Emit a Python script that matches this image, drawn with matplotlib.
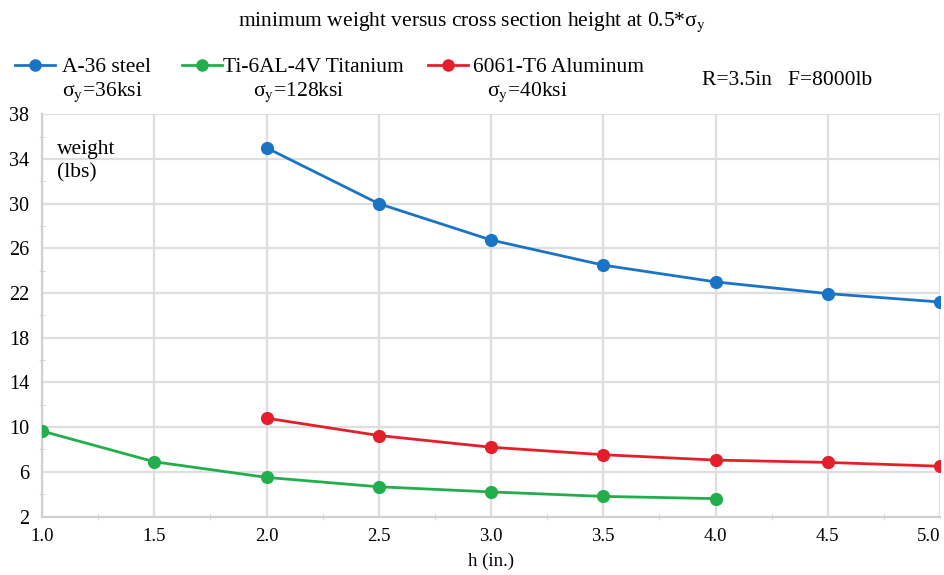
import numpy as np
import matplotlib.pyplot as plt
from matplotlib.lines import Line2D

plt.rcParams['font.family'] = ['Liberation Serif', 'DejaVu Serif']
plt.rcParams['mathtext.fontset'] = 'stix'

# h (in.)
h_steel = [2.0, 2.5, 3.0, 3.5, 4.0, 4.5, 5.0]
h_ti = [1.0, 1.5, 2.0, 2.5, 3.0, 3.5, 4.0]
h_al = [2.0, 2.5, 3.0, 3.5, 4.0, 4.5, 5.0]

# weight (lbs)
w_steel = [35.0, 30.0, 26.75, 24.5, 23.0, 21.95, 21.2]
w_ti = [9.65, 6.9, 5.5, 4.66, 4.2, 3.8, 3.6]
w_al = [10.8, 9.25, 8.2, 7.53, 7.05, 6.84, 6.5]

names = ['A-36 steel', 'Ti-6AL-4V Titanium', '6061-T6 Aluminum']
yields = [r'σ$_\mathrm{y}$=36ksi', r'σ$_\mathrm{y}$=128ksi', r'σ$_\mathrm{y}$=40ksi']
colors = ['#1a74c6', '#22ae4c', '#e41f2b']

x_ticks = [1.0, 1.5, 2.0, 2.5, 3.0, 3.5, 4.0, 4.5, 5.0]
y_ticks = [2, 6, 10, 14, 18, 22, 26, 30, 34, 38]

W, H = 944, 575
fig = plt.figure(figsize=(W / 100, H / 100), dpi=100)
ax = fig.add_axes([42 / W, 1 - 516.5 / H, 898 / W, 402.2 / H])

series = [(h_steel, w_steel), (h_ti, w_ti), (h_al, w_al)]
for (hx, wy), c in zip(series, colors):
    ax.plot(hx, wy, color=c, lw=2.0, marker='o', ms=8.5, zorder=3)

ax.set_xlim(1.0, 5.0)
ax.set_ylim(2, 38)
ax.set_xticks(x_ticks)
ax.set_xticklabels([f'{v:.1f}' for v in x_ticks])
ax.get_xticklabels()[-1].set_ha('right')
ax.set_yticks(y_ticks)
ax.set_xticks(np.arange(1.25, 5.0, 0.5), minor=True)
ax.set_yticks(np.arange(4, 38, 4), minor=True)
ax.grid(True, which='major', color='#dedede', lw=1.6)
ax.tick_params(axis='x', which='major', length=0, labelsize=13.5, pad=8)
ax.tick_params(axis='y', which='major', length=0, labelsize=14.5, pad=9)
ax.tick_params(which='minor', length=5, color='#cfcfcf', direction='inout')
for s in ['top', 'right']:
    ax.spines[s].set_visible(False)
for s in ['left', 'bottom']:
    ax.spines[s].set_color('#d0d0d0')
    ax.spines[s].set_linewidth(1.6)

ax.set_xlabel('h (in.)', fontsize=13.5, labelpad=6)
ax.text(15 / 898, 0.935, 'weight\n(lbs)', transform=ax.transAxes, fontsize=15.5,
        va='top', ha='left', linespacing=1.25)

fig.text(0.5, 1 - 26 / H, r'minimum weight versus cross section height at 0.5*σ$_\mathrm{y}$',
         ha='center', va='baseline', fontsize=15.5)

# legend, laid out by hand across the top (pixel positions)
handle_x = [15, 182, 428]
name_x = [62, 223, 473]
yield_x = [62, 253, 487]
row1 = 1 - 72 / H
row2 = 1 - 96 / H
mark_y = 1 - 65 / H
for hx, nx, yx, name, sy, c in zip(handle_x, name_x, yield_x, names, yields, colors):
    fig.add_artist(Line2D([hx / W, (hx + 40) / W], [mark_y, mark_y], color=c, lw=2.0,
                          transform=fig.transFigure))
    fig.add_artist(Line2D([(hx + 20) / W], [mark_y], color=c, marker='o', ms=8,
                          transform=fig.transFigure))
    fig.text(nx / W, row1, name, ha='left', va='baseline', fontsize=15.5)
    fig.text(yx / W, row2, sy, ha='left', va='baseline', fontsize=15.5)
fig.text(702 / W, 1 - 85 / H, 'R=3.5in   F=8000lb', ha='left', va='baseline', fontsize=15.5)

fig.savefig('out.png', dpi=100)
